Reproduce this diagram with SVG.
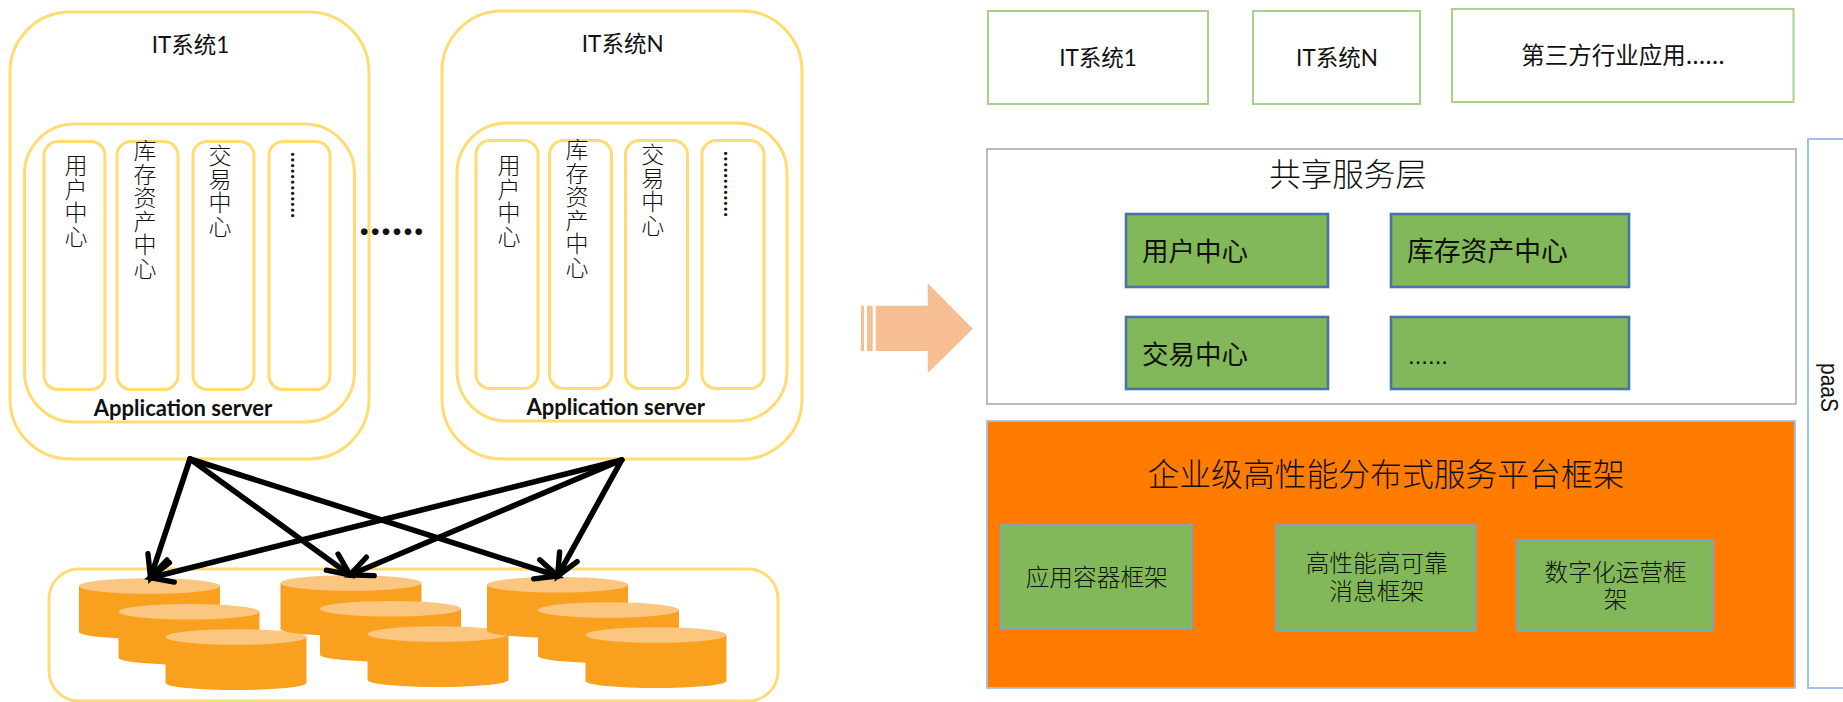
<svg xmlns="http://www.w3.org/2000/svg" width="1843" height="702" viewBox="0 0 1843 702">
<style>
text{font-family:"Lato","Noto Sans CJK SC",sans-serif;fill:#111;font-size:22.500px}
.c{text-anchor:middle}
.y{fill:none;stroke:#FFDC73;stroke-width:3}
.v{font-family:"Noto Sans CJK SC",sans-serif;font-size:23px;text-anchor:middle;font-weight:300}
.as{font-weight:700;font-size:22px;text-anchor:middle}
.d{font-family:"Lato",sans-serif;font-weight:700;font-size:20px}
.gb{fill:#fff;stroke:#A9D18E;stroke-width:2}
.sv{fill:#82B85A;stroke:#4A74A8;stroke-width:2.6}
.fw{fill:#82B85A;stroke:#6FA8DC;stroke-width:1.6}
.z{font-family:"Noto Sans CJK SC",sans-serif}
.arrow{fill:none;stroke:#000;stroke-width:5.6;stroke-linecap:round;marker-end:url(#open)}
</style>
<defs>
<marker id="open" markerUnits="userSpaceOnUse" markerWidth="40" markerHeight="40" refX="30" refY="20" orient="auto" overflow="visible">
<path d="M8,10 L30,20 L8,30" fill="none" stroke="#000" stroke-width="5.4" stroke-linecap="round" stroke-linejoin="miter"/>
</marker>
<g id="cyl">
<path d="M0,0 V46 A70.5,7 0 0 0 141,46 V0 Z" fill="#F9A11F"/>
<ellipse cx="70.5" cy="0" rx="70.5" ry="7.8" fill="#FBC680"/>
</g>
</defs>

<g id="it-system-1">
<rect class="y" x="10" y="12" width="359" height="447" rx="60"/>
<text class="c" x="190.500" y="53">IT系统1</text>
<rect class="y" x="24.500" y="124" width="330" height="298" rx="50"/>
<rect class="y" x="44" y="141.500" width="61" height="248" rx="14"/>
<rect class="y" x="117" y="141.500" width="61" height="248" rx="14"/>
<rect class="y" x="193" y="141.500" width="61" height="248" rx="14"/>
<rect class="y" x="269" y="141.500" width="61" height="248" rx="14"/>
<text class="v" x="76 76 76 76" y="174 197.500 221 244.500">用户中心</text>
<text class="v" x="145 145 145 145 145 145" y="159 182.600 206.200 229.800 253.400 277">库存资产中心</text>
<text class="v" x="220 220 220 220" y="164 188 211 235">交易中心</text>
<text class="d" transform="translate(291,152) rotate(90)" x="0" y="0" textLength="66" lengthAdjust="spacing">............</text>
<text class="as" x="183" y="416">Application server</text>
</g>

<g id="it-system-n">
<rect class="y" x="442" y="11" width="360" height="448" rx="60"/>
<text class="c" x="622.700" y="52">IT系统N</text>
<rect class="y" x="457" y="123" width="330" height="298" rx="50"/>
<rect class="y" x="476" y="140.500" width="62" height="248" rx="14"/>
<rect class="y" x="549.500" y="140.500" width="62" height="248" rx="14"/>
<rect class="y" x="625.500" y="140.500" width="62" height="248" rx="14"/>
<rect class="y" x="702" y="140.500" width="62" height="248" rx="14"/>
<text class="v" x="509 509 509 509" y="174 197.500 221 244.500">用户中心</text>
<text class="v" x="577 577 577 577 577 577" y="158 181.600 205.200 228.800 252.400 276">库存资产中心</text>
<text class="v" x="652.700 652.700 652.700 652.700" y="163 187 210 234">交易中心</text>
<text class="d" transform="translate(723.500,151) rotate(90)" x="0" y="0" textLength="66" lengthAdjust="spacing">............</text>
<text class="as" x="615.700" y="415">Application server</text>
</g>

<g id="ellipsis">
<text x="359" y="234.500" textLength="65" lengthAdjust="spacing" style="font-family:'Lato',sans-serif;font-weight:700;font-size:44px">......</text>
</g>

<g id="storage">
<rect class="y" x="49" y="569" width="729" height="132" rx="30"/>
<use href="#cyl" x="79" y="586"/>
<use href="#cyl" x="118.500" y="611.700"/>
<use href="#cyl" x="165.500" y="637"/>
<use href="#cyl" x="280.500" y="583"/>
<use href="#cyl" x="320" y="608.700"/>
<use href="#cyl" x="367.500" y="634"/>
<use href="#cyl" x="487" y="584.700"/>
<use href="#cyl" x="538" y="610"/>
<use href="#cyl" x="585.500" y="635"/>
</g>

<g id="connectors">
<path class="arrow" d="M190,459 L150.500,577.700"/>
<path class="arrow" d="M190,459 L350,575"/>
<path class="arrow" d="M190,459 L557.700,576"/>
<path class="arrow" d="M621.700,460 L150.500,577.700"/>
<path class="arrow" d="M621.700,460 L350,575"/>
<path class="arrow" d="M621.700,460 L557.700,576"/>
</g>

<g id="big-arrow" fill="#F7BE94">
<rect x="861" y="305.700" width="3" height="45.300"/>
<rect x="867" y="305.700" width="5.700" height="45.300"/>
<path d="M875.700,305.700 H927.700 V283.300 L972.700,328.700 L927.700,373.300 V351 H875.700 Z"/>
</g>

<g id="top-it1"><rect class="gb" x="988" y="11" width="220" height="93"/><text class="c" x="1098" y="66">IT系统1</text></g>
<g id="top-itn"><rect class="gb" x="1253" y="11" width="167" height="93"/><text class="c" x="1337" y="66">IT系统N</text></g>
<g id="top-third"><rect class="gb" x="1452" y="9" width="341.500" height="93"/><text class="c z" x="1623" y="64" style="font-size:23.500px">第三方行业应用......</text></g>

<g id="paas">
<path d="M1845,139 H1808 V688 H1845" fill="#fff" stroke="#9DC3E6" stroke-width="2"/>
<text transform="translate(1820.700,363) rotate(90)" x="0" y="0" style="font-family:'Liberation Sans',sans-serif;font-size:24px" textLength="49" lengthAdjust="spacingAndGlyphs">paaS</text>
</g>

<g id="shared-layer">
<rect x="987" y="149" width="809" height="255" fill="#fff" stroke="#ABABAB" stroke-width="1.600"/>
<text class="c z" x="1348" y="186" style="font-size:31.500px;font-weight:300">共享服务层</text>
</g>
<g id="svc-user"><rect class="sv" x="1126" y="214" width="202" height="73"/><text class="z" x="1142" y="261" style="font-size:26.500px">用户中心</text></g>
<g id="svc-stock"><rect class="sv" x="1391" y="214" width="238" height="73"/><text class="z" x="1407" y="261" style="font-size:26.800px">库存资产中心</text></g>
<g id="svc-trade"><rect class="sv" x="1126" y="317" width="202" height="72"/><text class="z" x="1142" y="364" style="font-size:26.500px">交易中心</text></g>
<g id="svc-more"><rect class="sv" x="1391" y="317" width="238" height="72"/><text x="1408" y="364" style="font-family:'Liberation Sans',sans-serif;font-size:24px">......</text></g>

<g id="platform">
<rect x="987" y="421" width="808" height="267" fill="#FF7C00" stroke="#9DC3E6" stroke-width="1.800"/>
<text class="c z" x="1386" y="486" style="font-size:31.800px;font-weight:300">企业级高性能分布式服务平台框架</text>
</g>
<g id="fw-container"><rect class="fw" x="1000.600" y="525" width="191.400" height="104"/><text class="c z" x="1096.700" y="586" style="font-size:23.700px;font-weight:300">应用容器框架</text></g>
<g id="fw-msg"><rect class="fw" x="1276" y="525" width="199.600" height="106"/><text class="c z" x="1376.700" y="572" style="font-size:23.700px;font-weight:300">高性能高可靠</text><text class="c z" x="1376.700" y="600" style="font-size:23.700px;font-weight:300">消息框架</text></g>
<g id="fw-digital"><rect class="fw" x="1517" y="540" width="196" height="91"/><text class="c z" x="1615.600" y="581" style="font-size:23.700px;font-weight:300">数字化运营框</text><text class="c z" x="1615.600" y="608" style="font-size:23.700px;font-weight:300">架</text></g>
</svg>
